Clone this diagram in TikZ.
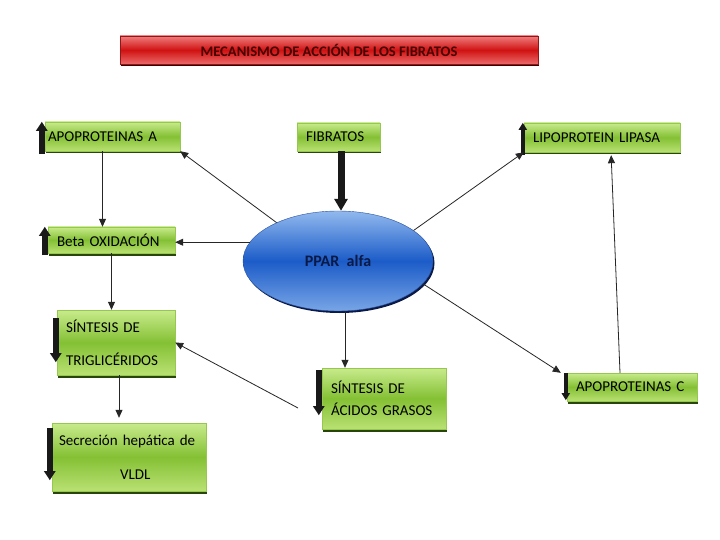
\documentclass[tikz,border=0pt]{standalone}
\usepackage{fontspec}
\setmainfont{Carlito}
\usetikzlibrary{arrows.meta,shapes.geometric,shadows}
\definecolor{verdeA}{RGB}{200,235,140}
\definecolor{verdeB}{RGB}{132,192,52}
\definecolor{verdeC}{RGB}{185,225,115}
\definecolor{verdeBorde}{RGB}{150,200,80}
\definecolor{verdeSombra}{RGB}{40,70,10}
\definecolor{rojoA}{RGB}{240,125,125}
\definecolor{rojoB}{RGB}{208,18,18}
\definecolor{rojoC}{RGB}{236,105,105}
\definecolor{rojoBorde}{RGB}{150,20,20}
\definecolor{rojoTexto}{RGB}{70,0,0}
\definecolor{azulA}{RGB}{145,185,238}
\definecolor{azulB}{RGB}{28,92,200}
\definecolor{azulC}{RGB}{120,165,230}
\definecolor{azulBorde}{RGB}{40,80,160}
\definecolor{azulTexto}{RGB}{10,25,70}
\begin{document}
\begin{tikzpicture}[x=1pt, y=-1pt, >={Triangle[width=7pt,length=8pt]},
  caja/.style={rectangle, draw=verdeBorde, line width=0.4pt,
    top color=verdeA, bottom color=verdeC, middle color=verdeB,
    drop shadow={shadow xshift=1pt, shadow yshift=-2.5pt, fill=verdeSombra, opacity=1},
    font=\fontsize{15}{18}\selectfont, text=black, align=left,
    inner xsep=9pt, inner ysep=0pt},
  flecha/.style={->, line width=0.8pt, black!85},
  marca/.style={line width=6pt, black!90, -{Triangle[width=11pt,length=9pt]}},
  marcafina/.style={line width=4.5pt, black!90, -{Triangle[width=8pt,length=7pt]}}]
  \useasboundingbox[fill=white] (0,0) rectangle (720,540);

  % 1. 标题
  \node[rectangle, draw=rojoBorde, line width=0.4pt,
    top color=rojoA, bottom color=rojoC, middle color=rojoB,
    drop shadow={shadow xshift=1pt, shadow yshift=-2.5pt, fill=rojoTexto!80!black, opacity=1},
    minimum width=418pt, minimum height=28pt, text=rojoTexto,
    font=\bfseries\fontsize{14.6}{16}\selectfont] (titulo) at (329,50) {MECANISMO DE ACCIÓN DE LOS FIBRATOS};

  % 2. 方框
  \node[caja, inner xsep=3pt, text width=129pt, minimum height=29pt] (apoa) at (112.5,136.5) {APOPROTEINAS  A};
  \node[caja, text width=65pt, minimum height=28pt] (fib) at (338.5,137) {FIBRATOS};
  \node[caja, text width=138pt, minimum height=29pt] (lpl) at (602,137.5) {LIPOPROTEIN LIPASA};
  \node[caja, text width=109pt, minimum height=26pt] (beta) at (111.5,240) {Beta OXIDACIÓN};
  \node[caja, text width=100pt, minimum height=65pt] (tg) at (116,342.5) {SÍNTESIS  DE\\[15pt]TRIGLICÉRIDOS};
  \node[caja, inner xsep=7pt, text width=140pt, minimum height=68pt] (vldl) at (129,457) {Secreción hepática de\\[16pt]\hspace*{61pt}VLDL};
  \node[caja, text width=106pt, minimum height=61pt] (acgr) at (384,398.5) {SÍNTESIS DE\\[4pt]ÁCIDOS GRASOS};
  \node[caja, text width=112pt, minimum height=28pt] (apoc) at (632,387) {APOPROTEINAS  C};

  % 3. 椭圆
  \node[ellipse, draw=azulBorde, line width=0.4pt,
    top color=azulA, bottom color=azulC, middle color=azulB,
    drop shadow={shadow xshift=1.5pt, shadow yshift=-2pt, fill=azulTexto, opacity=1},
    minimum width=190pt, minimum height=100pt, inner sep=0pt, text=azulTexto,
    font=\bfseries\fontsize{16}{18}\selectfont] (ppar) at (338,261) {PPAR\ \ alfa};

  % 4. 方框旁的粗箭头
  \draw[marca] ([xshift=-3pt, yshift=-3pt]apoa.south west) -- ([xshift=-3pt]apoa.north west);
  \draw[marca] ([xshift=-3pt, yshift=-2pt]beta.south west) -- ([xshift=-3pt]beta.north west);
  \draw[marcafina] ([xshift=-1pt, yshift=-3pt]lpl.south west) -- ([xshift=-1pt]lpl.north west);
  \draw[marca] ([xshift=-1pt, yshift=-8pt]tg.north west) -- ([xshift=-1pt, yshift=13pt]tg.south west);
  \draw[marca] ([xshift=-2pt, yshift=-5pt]vldl.north west) -- ([xshift=-2pt, yshift=11pt]vldl.south west);
  \draw[marca] ([xshift=-3pt, yshift=-2pt]acgr.north west) -- ([xshift=-3pt, yshift=14pt]acgr.south west);
  \draw[marcafina] ([xshift=-1pt]apoc.north west) -- ([xshift=-1pt, yshift=1pt]apoc.south west);
  \draw[line width=7pt, black!90, -{Triangle[width=13pt,length=12pt]}] ([xshift=2.5pt]fib.south) -- ([xshift=2.5pt]fib.south |- ppar.north);

  % 5. 连线
  \coordinate (libre) at (298,408);
  \draw[flecha] (ppar.148) -- (apoa.south east);
  \draw[flecha] (ppar.168) -- (ppar.168 -| beta.east);
  \draw[flecha] (ppar.22) -- (lpl.south west);
  \draw[flecha] ([xshift=-10pt]apoa.south) -- ([xshift=-10pt]apoa.south |- beta.north);
  \draw[flecha] (beta.south) -- (beta.south |- tg.north);
  \draw[flecha, shorten >=5pt] ([xshift=3pt]tg.south) -- ([xshift=3pt]tg.south |- vldl.north);
  \draw[flecha] ([xshift=7pt]ppar.south) -- ([xshift=7pt]ppar.south |- acgr.north);
  \draw[flecha] (libre) -- (tg.east);
  \draw[flecha] (ppar.-15) -- ([xshift=-6pt]apoc.north west);
  \draw[flecha, shorten >=3pt] ([xshift=-12pt]apoc.north) -- ([xshift=9pt]lpl.south);
\end{tikzpicture}
\end{document}
